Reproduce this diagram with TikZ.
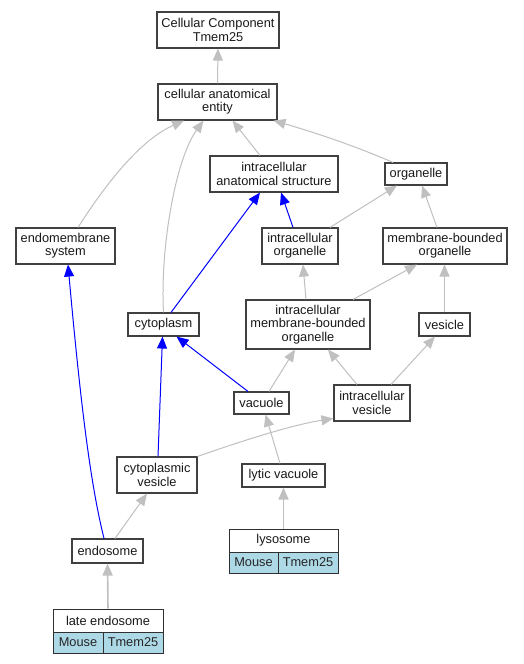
\documentclass[tikz,border=0pt]{standalone}
\usepackage{fontspec}
\setmainfont{Liberation Sans}
\usetikzlibrary{arrows.meta}
\definecolor{edgegray}{HTML}{C0C0C0}
\definecolor{boxline}{HTML}{404040}
\definecolor{cellblue}{HTML}{ADD8E6}
\definecolor{recline}{HTML}{303030}
\newcommand\nodefont{\fontsize{12.8}{13.3}\selectfont}
\begin{document}
\begin{tikzpicture}[x=1pt,y=-1pt,
 box/.style={draw=boxline, line width=1.1pt, fill=white, inner sep=0pt, align=center, font=\nodefont, text=black!90},
 rectop/.style={draw=recline, line width=1pt, fill=white, inner sep=0pt, align=center, font=\nodefont, text=black!90, minimum height=23pt},
 cell/.style={draw=recline, line width=1pt, fill=cellblue, inner sep=0pt, align=center, font=\nodefont, text=black!85, minimum height=21pt},
 ge/.style={draw=edgegray, line width=1pt, -{Triangle[length=12pt,width=10pt,fill=edgegray]}},
 gethick/.style={ge, line width=1.6pt},
 be/.style={draw=blue, line width=1pt, -{Triangle[length=12pt,width=10pt,fill=blue]}},
]
\useasboundingbox[fill=white] (0,0) rectangle (523,664);
% nodes
\node[box, minimum width=122pt, minimum height=36pt] (cc) at (218,30) {Cellular Component\\Tmem25};
\node[box, minimum width=119pt, minimum height=36pt] (cae) at (217.5,102) {cellular anatomical\\entity};
\node[box, minimum width=128pt, minimum height=36pt] (ias) at (274,174) {intracellular\\anatomical structure};
\node[box, minimum width=62pt, minimum height=22pt] (org) at (416,174) {organelle};
\node[box, minimum width=99pt, minimum height=36pt] (ems) at (65.5,246) {endomembrane\\system};
\node[box, minimum width=76pt, minimum height=36pt] (io) at (300,246) {intracellular\\organelle};
\node[box, minimum width=124pt, minimum height=36pt] (mbo) at (445,246) {membrane-bounded\\organelle};
\node[box, minimum width=71pt, minimum height=23pt] (cyto) at (163.5,324.5) {cytoplasm};
\node[box, minimum width=124pt, minimum height=49pt] (imbo) at (308,324.5) {intracellular\\membrane-bounded\\organelle};
\node[box, minimum width=51pt, minimum height=23pt] (ves) at (444.5,324.5) {vesicle};
\node[box, minimum width=55pt, minimum height=22pt] (vac) at (261.5,403) {vacuole};
\node[box, minimum width=76pt, minimum height=36pt] (iv) at (372,403) {intracellular\\vesicle};
\node[box, minimum width=80pt, minimum height=36pt] (cv) at (157,475) {cytoplasmic\\vesicle};
\node[box, minimum width=83pt, minimum height=23pt] (lv) at (283.5,475.5) {lytic vacuole};
\node[box, minimum width=71pt, minimum height=24pt] (endo) at (107.5,551) {endosome};
% lysosome record
\node[rectop, minimum width=109pt] (lyso) at (283.5,540.5) {lysosome};
\node[cell, minimum width=49pt] (lysoA) at (253.5,562.5) {Mouse};
\node[cell, minimum width=60pt] (lysoB) at (308,562.5) {Tmem25};
% late endosome record
\node[rectop, minimum width=110pt] (le) at (108,620.5) {late endosome};
\node[cell, minimum width=50pt] (leA) at (78,642.5) {Mouse};
\node[cell, minimum width=60pt] (leB) at (133,642.5) {Tmem25};
% gray edges
\draw[ge] (cae.north) -- (cc.south);
\draw[ge] ([xshift=12.5pt]ems.north) .. controls (105,185) and (140,140) .. ([xshift=-33.5pt]cae.south);
\draw[ge] (cyto.north) .. controls (160,250) and (175,160) .. ([xshift=-14pt]cae.south);
\draw[ge] ([xshift=-14pt]ias.north) -- ([xshift=15pt]cae.south);
\draw[ge] ([xshift=-23pt]org.north) .. controls (360,148) and (320,134) .. ([xshift=56pt]cae.south);
\draw[ge] ([xshift=30pt]io.north) -- ([xshift=-19pt]org.south);
\draw[ge] ([xshift=-8pt]mbo.north) -- ([xshift=6pt]org.south);
\draw[ge] ([xshift=-2pt]imbo.north) -- ([xshift=3pt]io.south);
\draw[ge] ([xshift=45pt]imbo.north) -- ([xshift=-28pt]mbo.south);
\draw[ge] (ves.north) -- (ves.north |- mbo.south);
\draw[ge] ([xshift=7.5pt]vac.north) -- ([xshift=-13pt]imbo.south);
\draw[ge] ([xshift=-15pt]iv.north) -- ([xshift=20pt]imbo.south);
\draw[ge] ([xshift=19pt]iv.north) -- ([xshift=-9.5pt]ves.south);
\draw[ge] (cv.north east) .. controls (230,445) and (290,425) .. ([yshift=3pt]iv.south west);
\draw[ge] ([xshift=-3.5pt]lv.north) -- ([xshift=4pt]vac.south);
\draw[ge] ([xshift=7.5pt]endo.north) -- ([xshift=-10pt]cv.south);
\draw[gethick] (le.north) -- (endo.south);
\draw[gethick] (lyso.north) -- (lv.south);
% blue edges
\draw[be] ([xshift=7.5pt]cyto.north) -- ([xshift=-14pt]ias.south);
\draw[be] ([xshift=-7pt]io.north) -- ([xshift=7pt]ias.south);
\draw[be] ([xshift=-3.5pt]endo.north) .. controls (92,490) and (82,420) .. ([xshift=2.5pt]ems.south);
\draw[be] ([xshift=1pt]cv.north) -- ([xshift=-1pt]cyto.south);
\draw[be] ([xshift=-13.5pt]vac.north) -- ([xshift=13pt]cyto.south);
\end{tikzpicture}
\end{document}
